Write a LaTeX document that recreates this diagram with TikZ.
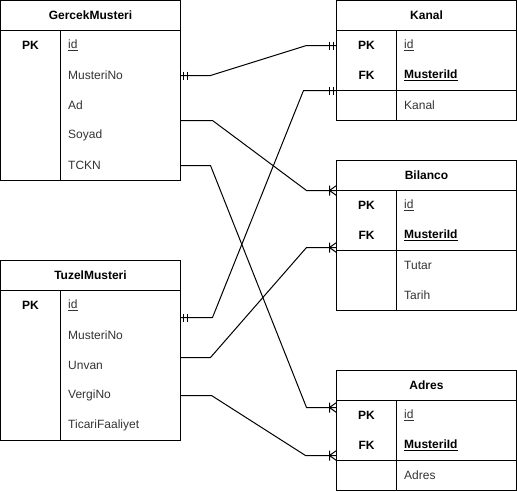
\documentclass[tikz,border=0pt]{standalone}
\usepackage{fontspec}
\setmainfont{Liberation Sans}
\usetikzlibrary{positioning}
\definecolor{rowgray}{RGB}{51,51,51}

\tikzset{
  entity/.style={draw, line width=1pt, minimum width=180pt, anchor=north west, inner sep=0pt, outer sep=0pt},
  headtext/.style={font=\fontsize{12}{14}\selectfont\bfseries},
  keycell/.style={font=\fontsize{12}{14}\selectfont\bfseries},
  rowtext/.style={font=\fontsize{12}{14}\selectfont, text=rowgray, anchor=west, inner sep=0pt},
  link/.style={line width=1pt},
  onemark/.pic={\draw[line width=1pt] (3,-4) -- (3,4) (7,-4) -- (7,4);},
  manymark/.pic={\draw[line width=1pt] (7,-5) -- (7,5) (7,0) -- (0,-5) (7,0) -- (0,5);}
}

\begin{document}
\begin{tikzpicture}[x=1pt,y=-1pt]
  \useasboundingbox (0,0) rectangle (517,491);

  % GercekMusteri
  \node[entity, minimum height=180pt] (gm) at (0.5,0.5) {};
  \draw[line width=1pt] ([yshift=-30pt]gm.north west) -- ([yshift=-30pt]gm.north east);
  \draw[line width=1pt] ([xshift=60pt,yshift=-30pt]gm.north west) -- ([xshift=60pt]gm.south west);
  \node[headtext] (gmT) at (90.5,15.5) {GercekMusteri};
  \node[keycell] (gmPk) at (30.5,45.5) {PK};
  \node[rowtext] (gmId) at (68,45.5) {\underline{id}};
  \node[rowtext] (gmNo) at (68,75.5) {MusteriNo};
  \node[rowtext] (gmAd) at (68,105.5) {Ad};
  \node[rowtext] (gmSo) at (68,135.5) {Soyad};
  \node[rowtext] (gmTc) at (68,165.5) {TCKN};

  % TuzelMusteri
  \node[entity, minimum height=180pt] (tm) at (0.5,260.5) {};
  \draw[line width=1pt] ([yshift=-30pt]tm.north west) -- ([yshift=-30pt]tm.north east);
  \draw[line width=1pt] ([xshift=60pt,yshift=-30pt]tm.north west) -- ([xshift=60pt]tm.south west);
  \node[headtext] (tmT) at (90.5,275.5) {TuzelMusteri};
  \node[keycell] (tmPk) at (30.5,305.5) {PK};
  \node[rowtext] (tmId) at (68,305.5) {\underline{id}};
  \node[rowtext] (tmNo) at (68,335.5) {MusteriNo};
  \node[rowtext] (tmUn) at (68,365.5) {Unvan};
  \node[rowtext] (tmVn) at (68,395.5) {VergiNo};
  \node[rowtext] (tmTf) at (68,425.5) {TicariFaaliyet};

  % Kanal
  \node[entity, minimum height=120pt] (ka) at (336.5,0.5) {};
  \draw[line width=1pt] ([yshift=-30pt]ka.north west) -- ([yshift=-30pt]ka.north east);
  \draw[line width=1pt] ([yshift=-90pt]ka.north west) -- ([yshift=-90pt]ka.north east);
  \draw[line width=1pt] ([xshift=60pt,yshift=-30pt]ka.north west) -- ([xshift=60pt]ka.south west);
  \node[headtext] (kaT) at (426.5,15.5) {Kanal};
  \node[keycell] (kaPk) at (366.5,45.5) {PK};
  \node[keycell] (kaFk) at (366.5,75.5) {FK};
  \node[rowtext] (kaId) at (404,45.5) {\underline{id}};
  \node[rowtext, text=black, font=\fontsize{12}{14}\selectfont\bfseries] (kaMi) at (404,75.5) {\underline{MusteriId}};
  \node[rowtext] (kaKa) at (404,105.5) {Kanal};

  % Bilanco
  \node[entity, minimum height=150pt] (bi) at (336.5,160.5) {};
  \draw[line width=1pt] ([yshift=-30pt]bi.north west) -- ([yshift=-30pt]bi.north east);
  \draw[line width=1pt] ([yshift=-90pt]bi.north west) -- ([yshift=-90pt]bi.north east);
  \draw[line width=1pt] ([xshift=60pt,yshift=-30pt]bi.north west) -- ([xshift=60pt]bi.south west);
  \node[headtext] (biT) at (426.5,175.5) {Bilanco};
  \node[keycell] (biPk) at (366.5,205.5) {PK};
  \node[keycell] (biFk) at (366.5,235.5) {FK};
  \node[rowtext] (biId) at (404,205.5) {\underline{id}};
  \node[rowtext, text=black, font=\fontsize{12}{14}\selectfont\bfseries] (biMi) at (404,235.5) {\underline{MusteriId}};
  \node[rowtext] (biTu) at (404,265.5) {Tutar};
  \node[rowtext] (biTa) at (404,295.5) {Tarih};

  % Adres
  \node[entity, minimum height=120pt] (ad) at (336.5,370.5) {};
  \draw[line width=1pt] ([yshift=-30pt]ad.north west) -- ([yshift=-30pt]ad.north east);
  \draw[line width=1pt] ([yshift=-90pt]ad.north west) -- ([yshift=-90pt]ad.north east);
  \draw[line width=1pt] ([xshift=60pt,yshift=-30pt]ad.north west) -- ([xshift=60pt]ad.south west);
  \node[headtext] (adT) at (426.5,385.5) {Adres};
  \node[keycell] (adPk) at (366.5,415.5) {PK};
  \node[keycell] (adFk) at (366.5,445.5) {FK};
  \node[rowtext] (adId) at (404,415.5) {\underline{id}};
  \node[rowtext, text=black, font=\fontsize{12}{14}\selectfont\bfseries] (adMi) at (404,445.5) {\underline{MusteriId}};
  \node[rowtext] (adAd) at (404,475.5) {Adres};

  % uc noktalar
  \coordinate (gmNoR) at (gm.east |- gmNo);
  \coordinate (gmAdR) at ([yshift=-120pt]gm.north east);
  \coordinate (gmTcR) at (gm.east |- gmTc);
  \coordinate (tmIdR) at ([yshift=-57pt]tm.north east);
  \coordinate (tmUnR) at ([yshift=-97pt]tm.north east);
  \coordinate (tmVnR) at (tm.east |- tmVn);
  \coordinate (kaIdL) at (ka.west |- kaId);
  \coordinate (kaFkL) at ([yshift=-90pt]ka.north west);
  \coordinate (biTopL) at ([yshift=-30pt]bi.north west);
  \coordinate (biFkL) at ([yshift=-87pt]bi.north west);
  \coordinate (adIdL) at ([yshift=-37pt]ad.north west);
  \coordinate (adFkL) at ([yshift=-85pt]ad.north west);

  % iliskiler
  \draw[link] (gmNoR) -- ++(30,0) -- ([xshift=-30pt]kaIdL) -- (kaIdL);
  \draw[link] (tmIdR) -- ++(32,0) -- ([xshift=-33pt]kaFkL) -- (kaFkL);
  \draw[link] (gmAdR) -- ++(32,0) -- ([xshift=-30pt]biTopL) -- (biTopL);
  \draw[link] (tmUnR) -- ++(30,0) -- ([xshift=-30pt]biFkL) -- (biFkL);
  \draw[link] (gmTcR) -- ++(30,0) -- ([xshift=-30pt]adIdL) -- (adIdL);
  \draw[link] (tmVnR) -- ++(31,0) -- ([xshift=-31pt]adFkL) -- (adFkL);

  \pic at (gmNoR) {onemark};
  \pic at (tmIdR) {onemark};
  \pic[xscale=-1] at (kaIdL) {onemark};
  \pic[xscale=-1] at (kaFkL) {onemark};
  \pic[xscale=-1] at (biTopL) {manymark};
  \pic[xscale=-1] at (biFkL) {manymark};
  \pic[xscale=-1] at (adIdL) {manymark};
  \pic[xscale=-1] at (adFkL) {manymark};
\end{tikzpicture}
\end{document}
